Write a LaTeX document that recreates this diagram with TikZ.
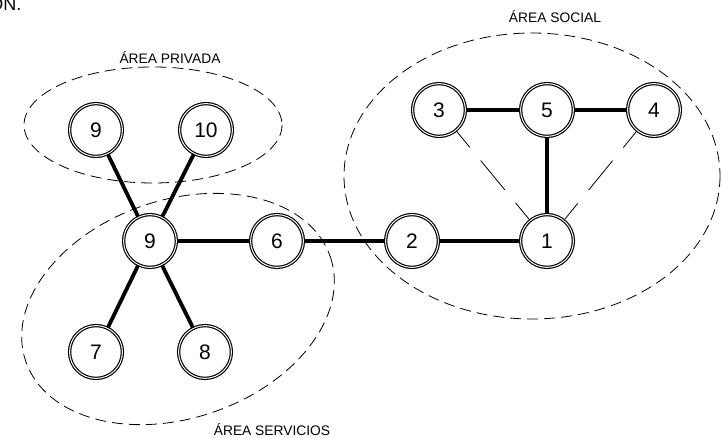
\documentclass[tikz,border=0pt]{standalone}
\usepackage{fontspec}
\setmainfont{Liberation Sans}
\begin{document}
\begin{tikzpicture}[x=1pt,y=-1pt,
  vtx/.style={circle, draw=black, fill=white, double=white, line width=1.15pt,
     double distance=1pt, minimum size=52.8pt, inner sep=0pt,
     font=\fontsize{21}{21}\selectfont},
  strong/.style={line width=3.8pt},
  faint/.style={line width=0.8pt, dash pattern=on 38pt off 17pt, dash phase=16.5pt},
  zone/.style={line width=0.8pt, dash pattern=on 11pt off 6pt},
  zlabel/.style={anchor=base, font=\fontsize{13.8}{14}\selectfont}]
\useasboundingbox (0,0) rectangle (722,438);
% zones
\coordinate (pc) at (153,125);
\coordinate (sc) at (532,176);
\coordinate (vc) at (178,309);
\draw[zone] (pc) ellipse [x radius=129, y radius=58];
\draw[zone] (sc) ellipse [x radius=188, y radius=143];
\draw[zone, rotate around={19:(vc)}] (vc) ellipse [x radius=161, y radius=109];
% labels
\node[zlabel] (lp) at (170,63.5) {ÁREA PRIVADA};
\node[zlabel] (ls) at (555,23) {ÁREA SOCIAL};
\node[zlabel] (lv) at (272,435.5) {ÁREA SERVICIOS};
\node[anchor=base east, font=\fontsize{18}{18}\selectfont] (on) at (25,10.5) {ÓN.};
% vertices
\node[vtx] (p9) at (96,130) {9};
\node[vtx] (p10) at (206,130) {10};
\node[vtx] (h9) at (150,241) {9};
\node[vtx] (n6) at (277,241) {6};
\node[vtx] (n2) at (412,241) {2};
\node[vtx] (n1) at (547,241) {1};
\node[vtx] (n3) at (439,110) {3};
\node[vtx] (n5) at (547,110) {5};
\node[vtx] (n4) at (654,110) {4};
\node[vtx] (n7) at (96,352) {7};
\node[vtx] (n8) at (205,352) {8};
% edges
\draw[strong] (p9) -- (h9);
\draw[strong] (p10) -- (h9);
\draw[strong] (h9) -- (n7);
\draw[strong] (h9) -- (n8);
\draw[strong] (h9) -- (n6);
\draw[strong] (n6) -- (n2);
\draw[strong] (n2) -- (n1);
\draw[strong] (n1) -- (n5);
\draw[strong] (n3) -- (n5);
\draw[strong] (n5) -- (n4);
\draw[faint] (n3) -- (n1);
\draw[faint] (n4) -- (n1);
\end{tikzpicture}
\end{document}
